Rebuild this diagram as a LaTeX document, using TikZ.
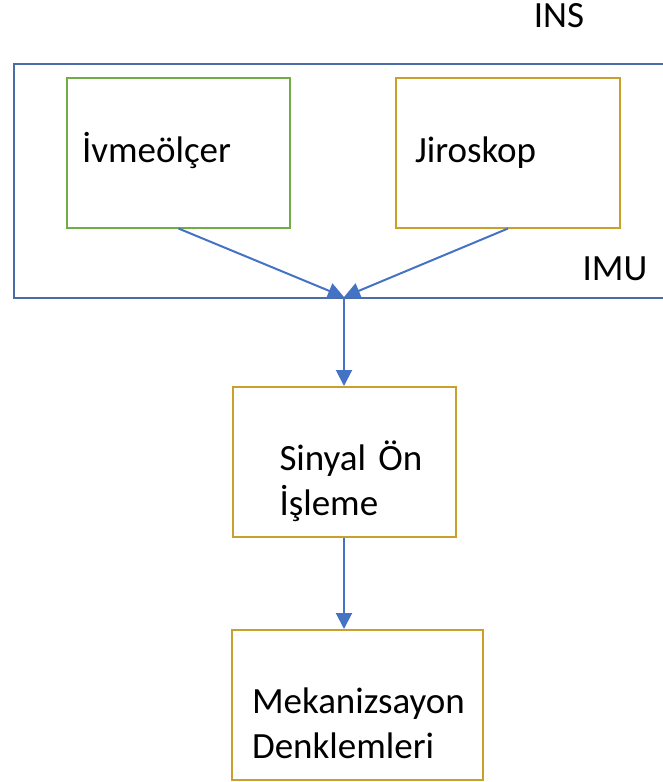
\documentclass[tikz,border=0pt]{standalone}
\usepackage{fontspec}
\setmainfont{Carlito}
\usetikzlibrary{arrows.meta, positioning}

\definecolor{imublue}{HTML}{4A6DAA}
\definecolor{linkblue}{HTML}{4472C4}
\definecolor{sensgreen}{HTML}{70AD47}
\definecolor{procgold}{HTML}{C9A02B}

\begin{document}
\begin{tikzpicture}[x=0.5pt, y=-0.5pt, node distance=44.5pt, auto]
    \tikzstyle{block} = [rectangle, draw=procgold, line width=1pt, minimum height=75pt, inner ysep=0pt, align=left, font=\fontsize{18.5}{22.75}\selectfont]
    \tikzstyle{oneline} = [text height=14pt, text depth=4pt]
    \tikzstyle{twoline} = [text height=34pt, text depth=26pt]
    \tikzstyle{line} = [draw, linkblue, line width=1pt, -{Triangle[length=8pt, width=8pt]}]
    \tikzstyle{tag} = [anchor=base, inner sep=0pt, font=\fontsize{18.5}{22.75}\selectfont]

    \useasboundingbox (0,0) rectangle (663,782);
    \clip (0,0) rectangle (663,782);

    % IMU frame, runs past the right edge
    \node [draw=imublue, line width=1pt, anchor=north west, minimum width=345pt, minimum height=117pt, inner sep=0pt] (imu) at (13,63) {};
    \node [tag] (imulabel) at (615,280) {IMU};
    \node [tag] (ins) at (559,27) {INS};

    \node [block, oneline, draw=sensgreen, minimum width=111.5pt, text width=96.5pt, inner xsep=7.5pt] (ivme) at (178.5,152.5) {İvmeölçer};
    \node [block, oneline, minimum width=112pt, text width=93pt, inner xsep=9.5pt] (jiro) at (508,152.5) {Jiroskop};

    \coordinate (merge) at (344,297);

    \node [block, twoline, below=of merge, minimum width=111.5pt, text width=64.5pt, inner xsep=23.5pt] (sinyal) {Sinyal~Ön\\İşleme};
    \node [block, twoline, below=45.5pt of sinyal, xshift=6.75pt, minimum width=125.5pt, text width=105.5pt, inner xsep=10pt] (mekan) {Mekanizsayon\\Denklemleri};

    \path [line] (ivme.south) -- (merge);
    \path [line] (jiro.south) -- (merge);
    \path [line] (merge) -- (sinyal);
    \path [line] (sinyal) -- (sinyal.south |- mekan.north);
\end{tikzpicture}
\end{document}
